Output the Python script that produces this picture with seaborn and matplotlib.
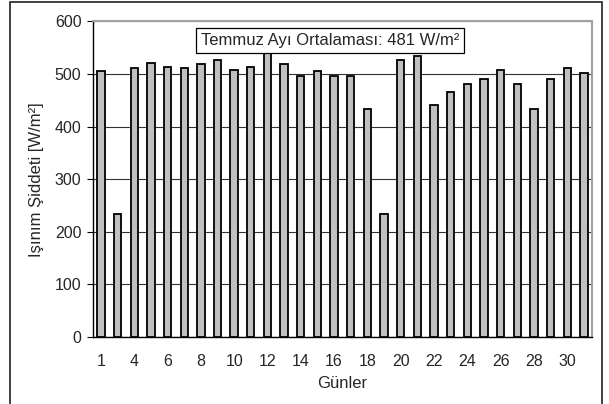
import matplotlib
matplotlib.use("Agg")
import matplotlib.pyplot as plt
import seaborn as sns
from matplotlib.patches import Rectangle

# daily mean irradiance for July (one day missing in the source data)
days = ["1", "2", "4", "5", "6", "7", "8", "9", "10", "11", "12", "13", "14", "15", "16",
        "17", "18", "19", "20", "21", "22", "23", "24", "25", "26", "27", "28", "29", "30", "31"]
irradiance = [505, 234, 512, 522, 514, 512, 520, 526, 507, 514, 540, 520, 497, 506, 497,
              496, 433, 234, 527, 535, 441, 465, 481, 491, 507, 481, 433, 491, 511, 502]
shown_ticks = days[::2]
shown_labels = ["1", "4", "6", "8", "10", "12", "14", "16", "18", "20", "22", "24", "26", "28", "30"]
avg_text = "Temmuz Ayı Ortalaması: 481 W/m²"

sns.set_style("white")
plt.rcParams["font.family"] = ["Liberation Sans", "DejaVu Sans"]

fig = plt.figure(figsize=(6.09, 4.04), dpi=100)
ax = fig.add_axes([0.152, 0.166, 0.8206, 0.7808])

sns.barplot(x=days, y=irradiance, order=days, color="#c0c0c0", saturation=1,
            edgecolor="black", linewidth=1.3, width=0.44, ax=ax, zorder=3)

ax.set_ylim(0, 600)
ax.set_yticks(range(0, 601, 100))
ax.set_xlim(-0.5, len(days) - 0.5)
ax.set_xticks([days.index(d) for d in shown_ticks])
ax.set_xticklabels(shown_labels)
ax.yaxis.grid(True, color="#333333", linewidth=0.8)
ax.xaxis.grid(False)
ax.set_axisbelow(True)

for side in ["top", "right"]:
    ax.spines[side].set_color("#a0a0a0")
    ax.spines[side].set_linewidth(1.5)
for side in ["left", "bottom"]:
    ax.spines[side].set_color("black")
    ax.spines[side].set_linewidth(1.0)

ax.tick_params(axis="y", left=True, length=4, width=0.8, color="black",
               labelsize=11.5, pad=4)
ax.tick_params(axis="x", bottom=False, labelsize=11.5, pad=9)
ax.set_xlabel("Günler", fontsize=12, labelpad=5)
ax.set_ylabel("Işınım Şiddeti [W/m²]", fontsize=12, labelpad=8)

ax.text(0.475, 0.941, avg_text, transform=ax.transAxes, ha="center", va="center",
        fontsize=12, zorder=5,
        bbox=dict(boxstyle="square,pad=0.3", facecolor="white", edgecolor="black", linewidth=0.9))

fig.patches.append(Rectangle((10 / 609, -0.02), 592 / 609, 1.0 - 2 / 404 + 0.02,
                             transform=fig.transFigure, fill=False,
                             edgecolor="#222222", linewidth=1.2))

fig.savefig("out.png", dpi=100)
